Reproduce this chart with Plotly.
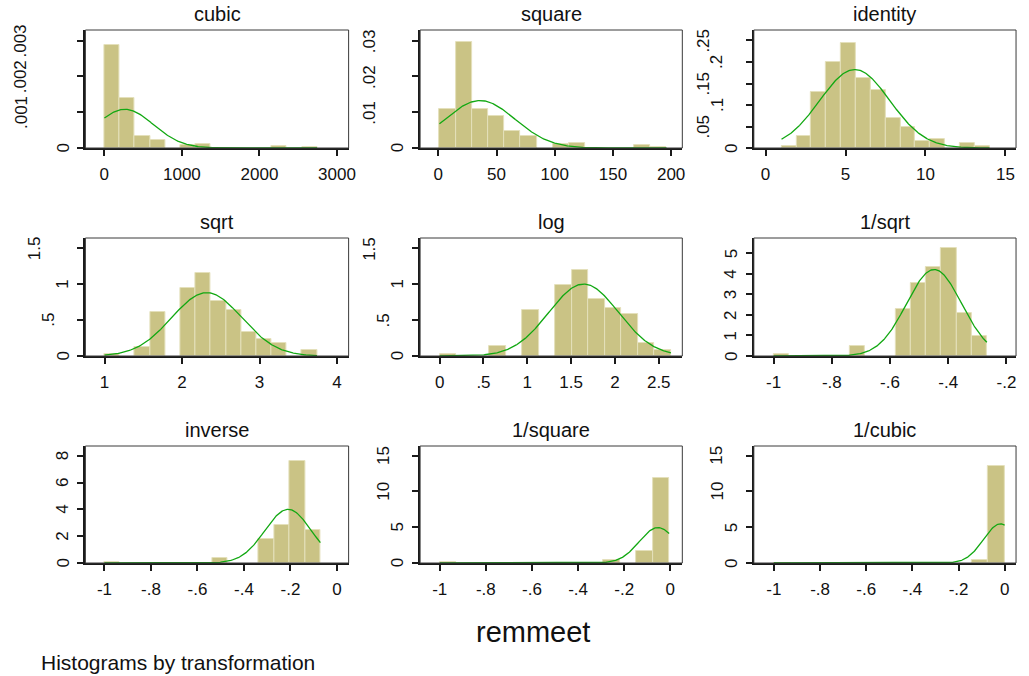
import numpy as np
import plotly.graph_objects as go

# ---- data (counts of remmeet values 1..14) ----
remmeet_values = [1, 2, 3, 4, 5, 6, 7, 8, 9, 10, 11, 12, 13, 14]
remmeet_counts = [1, 5, 24, 37, 45, 30, 25, 13, 9, 3, 4, 0, 2, 1]
n_bins = 14

panel_titles = ["cubic", "square", "identity", "sqrt", "log", "1/sqrt",
                "inverse", "1/square", "1/cubic"]

transforms = {
    "cubic": lambda v: v ** 3,
    "square": lambda v: v ** 2,
    "identity": lambda v: v,
    "sqrt": lambda v: np.sqrt(v),
    "log": lambda v: np.log(v),
    "1/sqrt": lambda v: -1 / np.sqrt(v),
    "inverse": lambda v: -1 / v,
    "1/square": lambda v: -1 / v ** 2,
    "1/cubic": lambda v: -1 / v ** 3,
}

x_tickvals = [
    [0, 1000, 2000, 3000],
    [0, 50, 100, 150, 200],
    [0, 5, 10, 15],
    [1, 2, 3, 4],
    [0, 0.5, 1, 1.5, 2, 2.5],
    [-1, -0.8, -0.6, -0.4, -0.2],
    [-1, -0.8, -0.6, -0.4, -0.2, 0],
    [-1, -0.8, -0.6, -0.4, -0.2, 0],
    [-1, -0.8, -0.6, -0.4, -0.2, 0],
]
x_ticktext = [
    ["0", "1000", "2000", "3000"],
    ["0", "50", "100", "150", "200"],
    ["0", "5", "10", "15"],
    ["1", "2", "3", "4"],
    ["0", ".5", "1", "1.5", "2", "2.5"],
    ["-1", "-.8", "-.6", "-.4", "-.2"],
    ["-1", "-.8", "-.6", "-.4", "-.2", "0"],
    ["-1", "-.8", "-.6", "-.4", "-.2", "0"],
    ["-1", "-.8", "-.6", "-.4", "-.2", "0"],
]
y_tickvals = [
    [0, 0.001, 0.002, 0.003],
    [0, 0.01, 0.02, 0.03],
    [0, 0.05, 0.1, 0.15, 0.2, 0.25],
    [0, 0.5, 1, 1.5],
    [0, 0.5, 1, 1.5],
    [0, 1, 2, 3, 4, 5],
    [0, 2, 4, 6, 8],
    [0, 5, 10, 15],
    [0, 5, 10, 15],
]
y_ticktext = [
    ["0", ".001", ".002", ".003"],
    ["0", ".01", ".02", ".03"],
    ["0", ".05", ".1", ".15", ".2", ".25"],
    ["0", ".5", "1", "1.5"],
    ["0", ".5", "1", "1.5"],
    ["0", "1", "2", "3", "4", "5"],
    ["0", "2", "4", "6", "8"],
    ["0", "5", "10", "15"],
    ["0", "5", "10", "15"],
]
x_ranges = [
    [-244, 3150], [-15.6, 209.6], [-0.73, 15.66],
    [0.753, 4.15], [-0.223, 2.769], [-1.068, -0.167],
    [-1.082, 0.05], [-1.085, 0.052], [-1.087, 0.049],
]
y_ranges = [
    [0, 0.0033], [0, 0.033], [0, 0.2744],
    [0, 1.646], [0, 1.646], [0, 5.75],
    [0, 8.72], [0, 16.36], [0, 16.36],
]

# ---- layout geometry (pixels) ----
W, H = 1029, 676
cols_px = [(86, 351), (423, 687), (759, 1023)]
rows_px = [(30, 148), (238, 356), (446, 563)]

FONT = "Liberation Sans, Arial, sans-serif"
TXT = "#111111"
BAR_FILL = "#cac385"
BAR_EDGE = "#e4e0bb"
CURVE = "#12a812"
AX = "#1a1a1a"
TICK_FS = 17


def ylabel_gap(label):
    # Stata-like placement of rotated y labels: longer labels sit further left
    return 17 + 14 * (len(label) - 1)


raw = np.repeat(np.array(remmeet_values, dtype=float), remmeet_counts)

fig = go.Figure()
layout = dict(
    width=W, height=H,
    margin=dict(l=0, r=0, t=0, b=0),
    paper_bgcolor="white", plot_bgcolor="white",
    showlegend=False, bargap=0,
    font=dict(family=FONT, color=TXT, size=TICK_FS),
    annotations=[], shapes=[],
)

for i, name in enumerate(panel_titles):
    r, c = divmod(i, 3)
    (l, rr), (t, b) = cols_px[c], rows_px[r]
    sfx = "" if i == 0 else str(i + 1)
    xa, ya = "x" + sfx, "y" + sfx

    data = transforms[name](raw)
    mn, mx = float(data.min()), float(data.max())
    size = (mx - mn) / n_bins * (1 + 1e-9)

    fig.add_trace(go.Histogram(
        x=data, xaxis=xa, yaxis=ya,
        histnorm="probability density",
        autobinx=False,
        xbins=dict(start=mn, end=mx, size=size),
        marker=dict(color=BAR_FILL, line=dict(color=BAR_EDGE, width=1)),
        hoverinfo="skip",
    ))

    mu, sd = data.mean(), data.std(ddof=1)
    xs = np.linspace(mn, mx, 300)
    ys = np.exp(-0.5 * ((xs - mu) / sd) ** 2) / (sd * np.sqrt(2 * np.pi))
    fig.add_trace(go.Scatter(
        x=xs, y=ys, mode="lines", xaxis=xa, yaxis=ya,
        line=dict(color=CURVE, width=1.3), hoverinfo="skip",
    ))

    layout["xaxis" + sfx] = dict(
        domain=[l / W, rr / W], anchor=ya, range=x_ranges[i],
        tickmode="array", tickvals=x_tickvals[i], ticktext=x_ticktext[i],
        showgrid=False, zeroline=False,
        showline=True, linecolor=AX, linewidth=2,
        ticks="outside", ticklen=6, tickwidth=1.5, tickcolor=AX,
        tickfont=dict(size=TICK_FS, family=FONT, color=TXT),
        ticklabelstandoff=4, fixedrange=True,
    )
    layout["yaxis" + sfx] = dict(
        domain=[1 - b / H, 1 - t / H], anchor=xa, range=y_ranges[i],
        tickmode="array", tickvals=y_tickvals[i],
        showticklabels=False,
        showgrid=False, zeroline=False,
        showline=True, linecolor=AX, linewidth=2,
        ticks="outside", ticklen=6, tickwidth=1.5, tickcolor=AX,
        fixedrange=True,
    )
    # rotated y tick labels
    for v, lab in zip(y_tickvals[i], y_ticktext[i]):
        layout["annotations"].append(dict(
            text=lab, xref="paper", yref=ya, x=(l - ylabel_gap(lab) + 4.5) / W,
            y=v, xanchor="right", yanchor="middle", textangle=-90,
            showarrow=False, borderpad=0,
            font=dict(size=TICK_FS, family=FONT, color=TXT),
        ))
    layout["shapes"].append(dict(
        type="rect", xref="paper", yref="paper", layer="above",
        x0=l / W, x1=rr / W, y0=1 - b / H, y1=1 - t / H,
        line=dict(color="#3a3a3a", width=1),
    ))
    layout["annotations"].append(dict(
        text=name, xref="paper", yref="paper",
        x=(l + rr) / 2 / W, y=1 - (t - 3) / H,
        xanchor="center", yanchor="bottom", showarrow=False,
        font=dict(size=20, family=FONT, color=TXT),
    ))

layout["annotations"].append(dict(
    text="remmeet", xref="paper", yref="paper",
    x=537 / W, y=1 - 632 / H, xanchor="center", yanchor="middle",
    showarrow=False, font=dict(size=29, family=FONT, color=TXT),
))
layout["annotations"].append(dict(
    text="Histograms by transformation", xref="paper", yref="paper",
    x=39 / W, y=1 - 662 / H, xanchor="left", yanchor="middle",
    showarrow=False, font=dict(size=21, family=FONT, color=TXT),
))

fig.update_layout(**layout)
fig.write_html(
    "out.html",
    config={"displayModeBar": False},
    post_script=("document.body.style.margin='0';"
                 "document.body.style.padding='0';"
                 "document.body.style.overflow='hidden';"),
)
